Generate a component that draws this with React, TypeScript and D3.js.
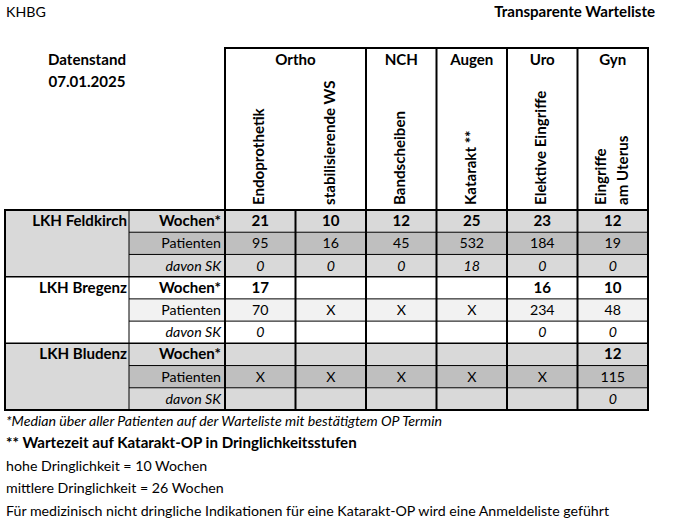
import React, { useEffect, useRef } from "react";
import * as d3 from "d3";

// Kopf
const title = "KHBG";
const subtitle = "Transparente Warteliste";
const standLines = ["Datenstand", "07.01.2025"];

// Fachbereiche (Gruppen) und Eingriffe (Spalten)
const groupNames = ["Ortho", "NCH", "Augen", "Uro", "Gyn"];
const groupSpans = [2, 1, 1, 1, 1];
const procedures = ["Endoprothetik", "stabilisierende WS", "Bandscheiben", "Katarakt **", "Elektive Eingriffe", "Eingriffe\nam Uterus"];

// Zeilen
const hospitals = ["LKH Feldkirch", "LKH Bregenz", "LKH Bludenz"];
const metrics = ["Wochen*", "Patienten", "davon SK"];

// Werte je Haus
const feldkirchWochen = ["21", "10", "12", "25", "23", "12"];
const feldkirchPatienten = ["95", "16", "45", "532", "184", "19"];
const feldkirchSK = ["0", "0", "0", "18", "0", "0"];
const bregenzWochen = ["17", "", "", "", "16", "10"];
const bregenzPatienten = ["70", "X", "X", "X", "234", "48"];
const bregenzSK = ["0", "", "", "", "0", "0"];
const bludenzWochen = ["", "", "", "", "", "12"];
const bludenzPatienten = ["X", "X", "X", "X", "X", "115"];
const bludenzSK = ["", "", "", "", "", "0"];

const footnotes = [
  "*Median über aller Patienten auf der Warteliste mit bestätigtem OP Termin",
  "** Wartezeit auf Katarakt-OP in Dringlichkeitsstufen",
  "hohe Dringlichkeit = 10 Wochen",
  "mittlere Dringlichkeit = 26 Wochen",
  "Für medizinisch nicht dringliche Indikationen für eine Katarakt-OP wird eine Anmeldeliste geführt",
];

const W = 674;
const H = 527;
const FONT = "Lato, 'Open Sans', sans-serif";
const FS = 14.2; // normal
const FSB = 15.1; // fett

const table = [
  [feldkirchWochen, feldkirchPatienten, feldkirchSK],
  [bregenzWochen, bregenzPatienten, bregenzSK],
  [bludenzWochen, bludenzPatienten, bludenzSK],
];

// Farben je Haus: [Grundfarbe, Patienten-Zeile]
const fills = [
  ["#d9d9d9", "#bfbfbf"],
  ["#ffffff", "#f2f2f2"],
  ["#d9d9d9", "#bfbfbf"],
];

function App() {
  const svgRef = useRef<SVGSVGElement>(null);

  useEffect(() => {
    const svg = d3.select(svgRef.current);
    svg.selectAll("*").remove();

    const left = 5, labelRight = 129, tableLeft = 225, right = 648;
    const headTop = 48, bodyTop = 210, bodyBottom = 410;

    const x = d3.scaleBand<number>().domain(d3.range(procedures.length)).range([tableLeft, right]);
    const y = d3.scaleBand<number>().domain(d3.range(hospitals.length * metrics.length)).range([bodyTop, bodyBottom]);
    const bw = x.bandwidth();
    const rh = y.bandwidth();

    const g = svg.append("g").attr("font-family", FONT).attr("font-size", FS).attr("fill", "#000");
    const bold = (sel: any) => sel.attr("font-weight", "bold").attr("font-size", FSB);

    g.append("text").attr("x", 6).attr("y", 17).text(title);
    g.append("text").attr("x", 655).attr("y", 17).attr("text-anchor", "end").call(bold).text(subtitle);
    standLines.forEach((s, i) => {
      g.append("text").attr("x", 87).attr("y", 65 + i * 22).attr("text-anchor", "middle").call(bold).text(s);
    });

    // Zellfüllungen
    hospitals.forEach((h, hi) => {
      const r0 = hi * 3;
      g.append("rect").attr("x", left).attr("y", y(r0)!).attr("width", labelRight - left).attr("height", rh * 3).attr("fill", fills[hi][0]);
      metrics.forEach((m, mi) => {
        g.append("rect").attr("x", labelRight).attr("y", y(r0 + mi)!).attr("width", right - labelRight).attr("height", rh)
          .attr("fill", mi === 1 ? fills[hi][1] : fills[hi][0]);
      });
    });

    // Gruppenköpfe
    let col = 0;
    const groupEdges: number[] = [tableLeft];
    groupNames.forEach((name, i) => {
      const x0 = x(col)!;
      const x1 = x0 + bw * groupSpans[i];
      g.append("text").attr("x", (x0 + x1) / 2).attr("y", 65).attr("text-anchor", "middle").call(bold).text(name);
      col += groupSpans[i];
      groupEdges.push(x1);
    });

    // senkrechte Eingriffsnamen
    procedures.forEach((p, i) => {
      const lines = p.split("\n");
      const cx = x(i)! + bw / 2 - 1;
      lines.forEach((ln, li) => {
        const bx = cx + 5 + (li - (lines.length - 1) / 2) * 21.5;
        g.append("text").attr("transform", `translate(${bx},205) rotate(-90)`).call(bold).text(ln);
      });
    });

    // Körper
    table.forEach((rows, hi) => {
      const r0 = hi * 3;
      g.append("text").attr("x", 127).attr("y", y(r0)! + rh / 2 + 5).attr("text-anchor", "end").call(bold).text(hospitals[hi]);
      rows.forEach((vals, mi) => {
        const yy = y(r0 + mi)! + rh / 2 + 5;
        const style = mi === 2 ? "italic" : "normal";
        const t = g.append("text").attr("x", 221).attr("y", yy).attr("text-anchor", "end")
          .attr("font-style", style).text(metrics[mi]);
        if (mi === 0) t.call(bold);
        const cells = g.selectAll(null).data(vals).enter().append("text")
          .attr("x", (d, i) => x(i)! + bw / 2)
          .attr("y", yy)
          .attr("text-anchor", "middle")
          .attr("font-style", style)
          .text((d) => d);
        if (mi === 0) cells.call(bold);
      });
    });

    // Linien
    const lines = g.append("g").attr("stroke", "#000").attr("fill", "none");
    const hline = (x1: number, x2: number, yy: number, w: number) =>
      lines.append("line").attr("x1", x1).attr("x2", x2).attr("y1", yy).attr("y2", yy).attr("stroke-width", w);
    const vline = (xx: number, y1: number, y2: number, w: number) =>
      lines.append("line").attr("x1", xx).attr("x2", xx).attr("y1", y1).attr("y2", y2).attr("stroke-width", w);

    // Kopf
    hline(tableLeft - 1, right + 1, headTop, 2);
    groupEdges.forEach((gx) => vline(gx, headTop, bodyTop, 2));

    // Zeilenlinien
    d3.range(1, 9).forEach((r) => {
      const yy = y(r)!;
      if (r % 3 === 0) hline(left, right, yy, 1.5);
      else hline(labelRight, right, yy, 1);
    });
    hline(left - 1, right + 1, bodyTop, 2);
    hline(left - 1, right + 1, bodyBottom, 2);

    vline(left, bodyTop, bodyBottom, 2);
    vline(labelRight, bodyTop, bodyBottom, 1);
    d3.range(procedures.length + 1).forEach((i) => {
      const xx = i < procedures.length ? x(i)! : right;
      vline(xx, bodyTop, bodyBottom, 2);
    });

    // Fußnoten
    footnotes.forEach((f, i) => {
      const t = g.append("text").attr("x", 6).attr("y", 426 + i * 22.4)
        .attr("font-style", i === 0 ? "italic" : "normal")
        .text(f);
      if (i === 1) t.call(bold);
    });
  }, []);

  return (
    <svg ref={svgRef} width={W} height={H} style={{ position: "absolute", left: 0, top: 0, background: "#fff" }} />
  );
}

export default App;
